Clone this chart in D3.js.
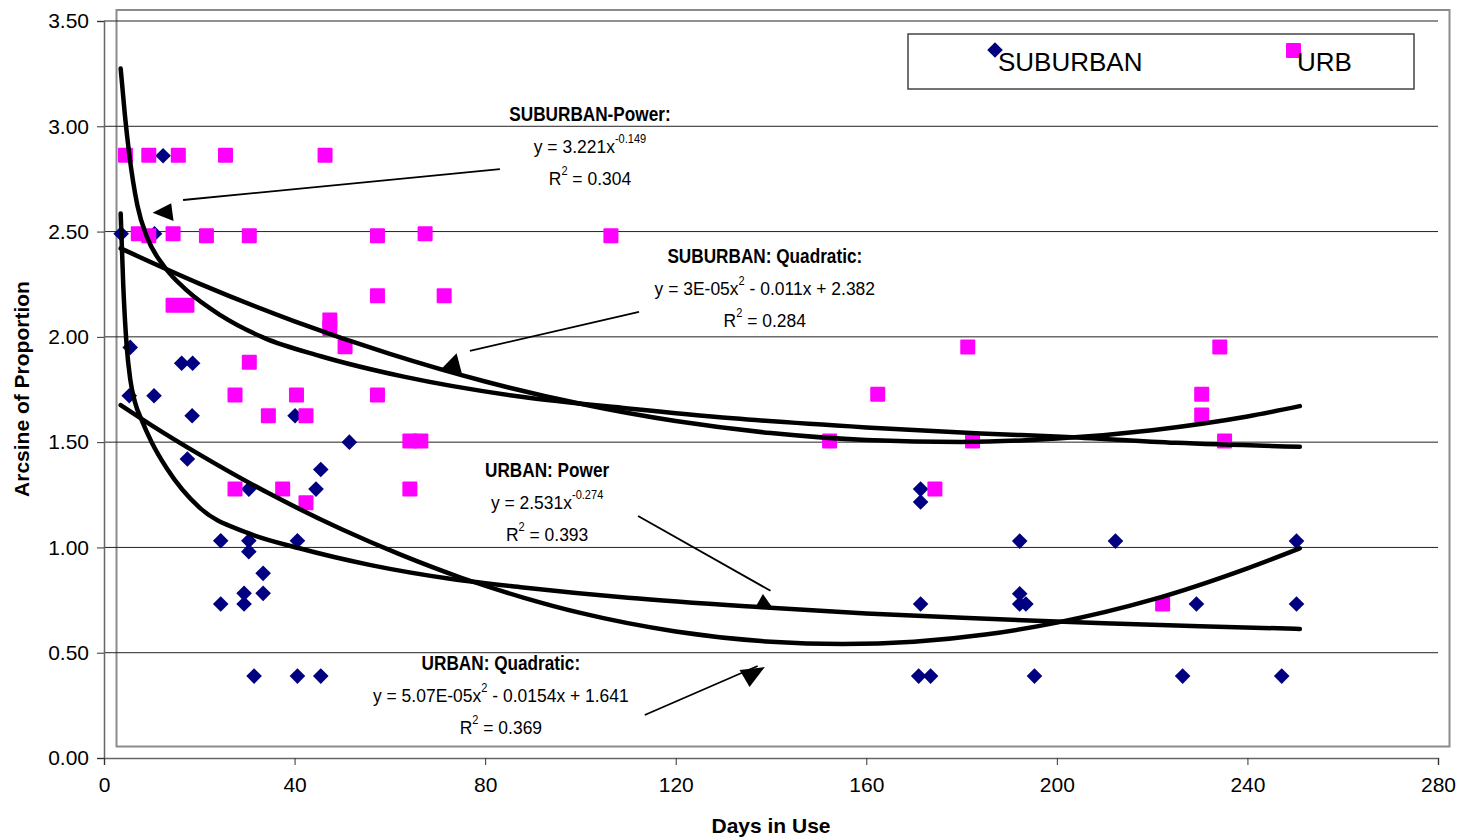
<!DOCTYPE html>
<html>
<head>
<meta charset="utf-8">
<script src="https://cdn.jsdelivr.net/npm/d3@7"></script>
<style>
  html, body { margin: 0; padding: 0; background: #fff; }
  svg { display: block; }
</style>
</head>
<body>
<div id="chart"></div>
<script>
// ─── Data ──────────────────────────────────────────────────────

const suburbanDays = [3.6, 12.4, 10.6, 5.5, 5.3, 10.5, 16.3, 18.6, 18.5, 17.5, 40.1, 51.5, 45.5, 44.5,
    30.4, 24.5, 30.4, 40.6, 30.4, 33.4, 29.4, 33.4, 24.5, 29.4, 31.5, 40.6, 45.5,
    171.4, 171.4, 171.4, 171, 173.5, 192.2, 192.2, 192.2, 193.5, 195.3, 212.3, 226.4, 229.3, 247.2, 250.3, 250.3];
const suburbanValues = [2.49, 2.86, 2.49, 1.95, 1.72, 1.72, 1.875, 1.875, 1.625, 1.42, 1.625, 1.50, 1.37, 1.277,
    1.277, 1.032, 1.032, 1.032, 0.98, 0.877, 0.782, 0.782, 0.731, 0.731, 0.389, 0.389, 0.389,
    1.277, 1.216, 0.731, 0.389, 0.389, 1.03, 0.78, 0.731, 0.731, 0.389, 1.03, 0.389, 0.731, 0.389, 1.03, 0.731];

const urbDays = [4.5, 9.4, 15.6, 25.5, 46.4, 7.2, 9.4, 14.5, 21.5, 30.5, 57.4, 67.4, 106.4,
    14.5, 17.4, 57.4, 71.4, 47.4, 47.4, 50.6, 30.5, 27.5, 40.4, 57.4, 34.5, 42.4, 64.2, 66.5,
    27.5, 37.5, 42.4, 64.2, 152.3, 162.4, 174.4, 181.3, 182.3, 222.2, 230.4, 230.4, 234.2, 235.2];
const urbValues = [2.863, 2.863, 2.863, 2.863, 2.863, 2.49, 2.48, 2.49, 2.48, 2.48, 2.48, 2.49, 2.48,
    2.15, 2.15, 2.195, 2.195, 2.08, 2.04, 1.953, 1.879, 1.724, 1.724, 1.724, 1.625, 1.625, 1.505, 1.505,
    1.277, 1.277, 1.212, 1.277, 1.505, 1.728, 1.277, 1.952, 1.505, 0.731, 1.728, 1.629, 1.952, 1.505];

// trendlines as drawn in the picture (days, value)
const upperPowerDays   = [3.5, 4.4, 5.25, 7, 9.1, 12.6, 17.5, 24.5, 33.6, 45.5, 62.9, 88, 110, 132, 160, 184, 201, 225, 251];
const upperPowerValues = [3.274, 3.05, 2.877, 2.625, 2.47, 2.335, 2.218, 2.102, 1.995, 1.908, 1.811, 1.714, 1.66, 1.613, 1.57, 1.541, 1.526, 1.497, 1.478];

const upperQuadDays   = [3.5, 20, 40, 60, 80, 100, 120, 140, 160, 180, 200, 220, 240, 251];
const upperQuadValues = [2.42, 2.253, 2.074, 1.919, 1.788, 1.682, 1.60, 1.543, 1.51, 1.501, 1.517, 1.557, 1.622, 1.671];

const lowerPowerDays   = [3.5, 4.05, 4.75, 5.5, 6.5, 8, 10, 13.2, 20, 30, 41, 56, 73, 88, 110, 138, 160, 184, 210, 230, 251];
const lowerPowerValues = [2.586, 2.24, 1.96, 1.80, 1.69, 1.60, 1.50, 1.375, 1.19, 1.07, 0.996, 0.916, 0.85, 0.81, 0.761, 0.716, 0.686, 0.662, 0.64, 0.626, 0.613];

const lowerQuadDays   = [3.5, 10, 20, 35, 50, 62, 75, 88, 100, 120, 140, 155, 170, 185, 200, 220, 240, 251];
const lowerQuadValues = [1.676, 1.58, 1.442, 1.252, 1.085, 0.968, 0.856, 0.762, 0.689, 0.601, 0.552, 0.541, 0.552, 0.586, 0.643, 0.752, 0.901, 0.996];

const xTicks = [0, 40, 80, 120, 160, 200, 240, 280];
const yTicks = [0, 0.5, 1, 1.5, 2, 2.5, 3, 3.5];

const legendLabels = ['SUBURBAN', 'URB'];

// annotation text blocks
const noteTitles    = ['SUBURBAN-Power:', 'SUBURBAN: Quadratic:', 'URBAN: Power', 'URBAN: Quadratic:'];
const noteEqMain    = ['y = 3.221x', 'y = 3E-05x', 'y = 2.531x', 'y = 5.07E-05x'];
const noteEqSup     = ['-0.149', '2', '-0.274', '2'];
const noteEqTail    = ['', ' - 0.011x + 2.382', '', ' - 0.0154x + 1.641'];
const noteR2        = ['0.304', '0.284', '0.393', '0.369'];
const noteAnchorDay = [102.0, 138.7, 93.0, 83.3];
const noteAnchorVal = [3.025, 2.352, 1.336, 0.418];

// arrow shafts [from day, from val, to day, to val] and arrowheads (3 points)
const arrowShafts = [
    [83.1, 2.797, 16.6, 2.650],
    [112.3, 2.119, 76.8, 1.933],
    [112.1, 1.149, 139.9, 0.794],
    [113.5, 0.204, 137.2, 0.437]
];
const arrowHeads = [
    [[10.2, 2.589], [14.1, 2.634], [14.6, 2.550]],
    [[70.9, 1.850], [74.0, 1.922], [75.1, 1.827]],
    [[136.6, 0.711], [138.3, 0.779], [140.4, 0.711]],
    [[133.4, 0.418], [138.7, 0.432], [135.5, 0.337]]
];

// ─── Layout ────────────────────────────────────────────────────

const W = 1462, H = 840;
const FONT = '"Liberation Sans", Arial, sans-serif';
const TITLE_SQUEEZE = 0.86;   // condensed look of the note titles
const EQ_SQUEEZE = 0.92;      // condensed look of the equations

const x = d3.scaleLinear().domain([0, 280]).range([104, 1438]);
const y = d3.scaleLinear().domain([0, 3.5]).range([758, 21]);

const svg = d3.select('#chart').append('svg')
    .attr('width', W).attr('height', H)
    .style('font-family', FONT);

// plot-area frame
svg.append('rect')
    .attr('x', 116.5).attr('y', 10).attr('width', 1333).attr('height', 736.5)
    .attr('fill', 'none').attr('stroke', '#8c8c8c').attr('stroke-width', 2);

// gridlines
svg.append('g').selectAll('line').data(yTicks.slice(1)).enter().append('line')
    .attr('x1', x(0)).attr('x2', x(280))
    .attr('y1', d => y(d)).attr('y2', d => y(d))
    .attr('stroke', '#222').attr('stroke-width', 1);

// axes
const yAxis = d3.axisLeft(y).tickValues(yTicks).tickFormat(d3.format('.2f')).tickSize(7).tickPadding(8);
const gy = svg.append('g').attr('transform', `translate(${x(0)},0)`).call(yAxis);
const xAxis = d3.axisBottom(x).tickValues(xTicks).tickSize(7).tickPadding(12);
const gx = svg.append('g').attr('transform', `translate(0,${y(0)})`).call(xAxis);

[gx, gy].forEach(g => {
    g.select('.domain').attr('stroke', '#666').attr('stroke-width', 1.5);
    g.selectAll('.tick line').attr('stroke', '#333');
    g.selectAll('.tick text').attr('fill', '#000').style('font-size', '21px').style('font-family', FONT);
});

// axis titles
svg.append('text')
    .attr('x', 771).attr('y', 833).attr('text-anchor', 'middle')
    .style('font-size', '21px').style('font-weight', 'bold')
    .text('Days in Use');

svg.append('text')
    .attr('transform', 'translate(29,389) rotate(-90)')
    .attr('text-anchor', 'middle')
    .style('font-size', '21px').style('font-weight', 'bold')
    .text('Arcsine of Proportion');

// ─── Markers ───────────────────────────────────────────────────

const diamondPath = (cx, cy, r) => `M${cx},${cy - r}L${cx + r},${cy}L${cx},${cy + r}L${cx - r},${cy}Z`;

svg.append('g').selectAll('path').data(suburbanDays.map((d, i) => [d, suburbanValues[i]]))
    .enter().append('path')
    .attr('d', d => diamondPath(x(d[0]), y(d[1]), 7.8))
    .attr('fill', '#000080');

svg.append('g').selectAll('rect').data(urbDays.map((d, i) => [d, urbValues[i]]))
    .enter().append('rect')
    .attr('x', d => x(d[0]) - 7.5).attr('y', d => y(d[1]) - 7.5)
    .attr('width', 15).attr('height', 15).attr('rx', 1)
    .attr('fill', '#ff00ff');

// ─── Trendlines ────────────────────────────────────────────────

const trendLine = d3.line().x(d => x(d[0])).y(d => y(d[1])).curve(d3.curveMonotoneX);
const zipPts = (a, b) => a.map((d, i) => [d, b[i]]);

[
    zipPts(upperPowerDays, upperPowerValues),
    zipPts(upperQuadDays, upperQuadValues),
    zipPts(lowerPowerDays, lowerPowerValues),
    zipPts(lowerQuadDays, lowerQuadValues)
].forEach(pts => {
    svg.append('path')
        .attr('d', trendLine(pts))
        .attr('fill', 'none').attr('stroke', '#000')
        .attr('stroke-width', 4.5).attr('stroke-linecap', 'round').attr('stroke-linejoin', 'round');
});

// ─── Annotations ───────────────────────────────────────────────

arrowShafts.forEach(a => {
    svg.append('line')
        .attr('x1', x(a[0])).attr('y1', y(a[1]))
        .attr('x2', x(a[2])).attr('y2', y(a[3]))
        .attr('stroke', '#000').attr('stroke-width', 1.8);
});

arrowHeads.forEach(h => {
    svg.append('polygon')
        .attr('points', h.map(p => `${x(p[0])},${y(p[1])}`).join(' '))
        .attr('fill', '#000');
});

noteTitles.forEach((title, i) => {
    const cx = x(noteAnchorDay[i]);
    const by = y(noteAnchorVal[i]);

    svg.append('text')
        .attr('transform', `translate(${cx},${by}) scale(${TITLE_SQUEEZE},1)`)
        .attr('text-anchor', 'middle')
        .style('font-size', '20px').style('font-weight', 'bold').text(title);

    const eq = svg.append('text')
        .attr('transform', `translate(${cx},${by + 32}) scale(${EQ_SQUEEZE},1)`)
        .attr('text-anchor', 'middle').style('font-size', '19px');
    eq.append('tspan').text(noteEqMain[i]);
    eq.append('tspan').attr('dy', -10).style('font-size', '12px').text(noteEqSup[i]);
    if (noteEqTail[i]) eq.append('tspan').attr('dy', 10).text(noteEqTail[i]);

    const r2 = svg.append('text')
        .attr('transform', `translate(${cx},${by + 64}) scale(${EQ_SQUEEZE},1)`)
        .attr('text-anchor', 'middle').style('font-size', '19px');
    r2.append('tspan').text('R');
    r2.append('tspan').attr('dy', -10).style('font-size', '12px').text('2');
    r2.append('tspan').attr('dy', 10).text(' = ' + noteR2[i]);
});

// ─── Legend ────────────────────────────────────────────────────

const legend = svg.append('g');
legend.append('rect')
    .attr('x', 908).attr('y', 34).attr('width', 506).attr('height', 55)
    .attr('fill', '#fff').attr('stroke', '#444').attr('stroke-width', 1.5);

legend.append('path').attr('d', diamondPath(995, 50, 7.8)).attr('fill', '#000080');
legend.append('text').attr('x', 998).attr('y', 71).style('font-size', '26px').text(legendLabels[0]);

legend.append('rect').attr('x', 1286).attr('y', 43).attr('width', 15).attr('height', 15).attr('rx', 1).attr('fill', '#ff00ff');
legend.append('text').attr('x', 1297).attr('y', 71).style('font-size', '26px').text(legendLabels[1]);
</script>
</body>
</html>
